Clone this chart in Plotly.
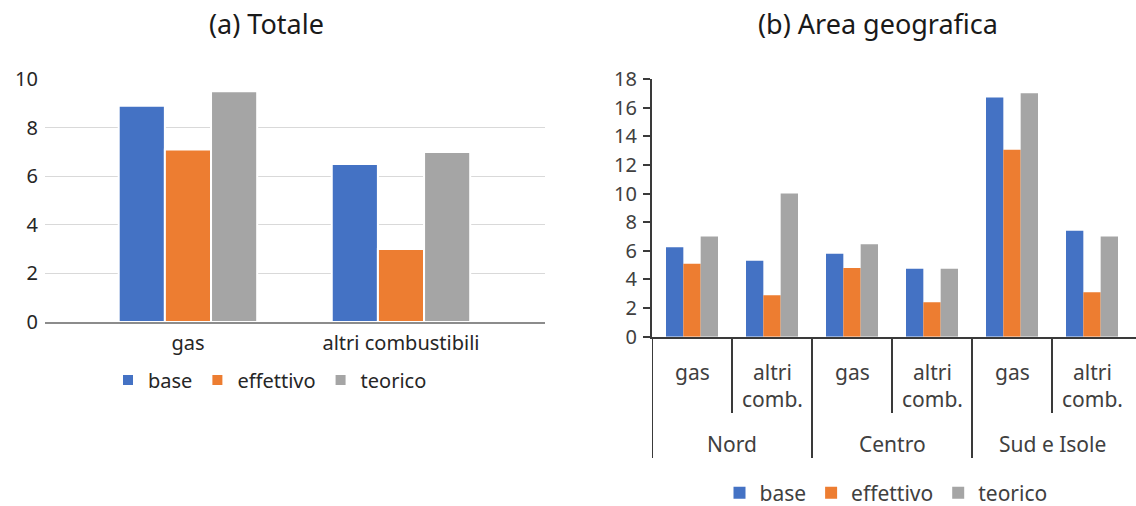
import plotly.graph_objects as go

# ---- data ----
series = ["base", "effettivo", "teorico"]
colors = ["#4472C4", "#ED7D31", "#A5A5A5"]

tot_cats = ["gas", "altri combustibili"]
tot_base = [8.9, 6.5]
tot_eff = [7.1, 3.0]
tot_teo = [9.5, 7.0]

regions = ["Nord", "Centro", "Sud e Isole"]
fuels = ["gas", "altri<br>comb."]
geo_base = [6.25, 5.3, 5.8, 4.75, 16.7, 7.4]
geo_eff = [5.1, 2.9, 4.8, 2.4, 13.05, 3.1]
geo_teo = [7.0, 10.0, 6.45, 4.75, 17.0, 7.0]

geo_cats = [f"{r} | {f}" for r in regions for f in fuels]

W, H = 1136, 506
def px(x):
    return x / W
def py(y):
    return 1 - y / H

fig = go.Figure()

for name, col, vals in zip(series, colors, [tot_base, tot_eff, tot_teo]):
    fig.add_trace(go.Bar(x=tot_cats, y=vals, name=name, marker=dict(color=col, line=dict(color="white", width=2)),
                         xaxis="x", yaxis="y", legend="legend"))

for name, col, vals in zip(series, colors, [geo_base, geo_eff, geo_teo]):
    fig.add_trace(go.Bar(x=geo_cats, y=vals, name=name, marker=dict(color=col, line=dict(width=0)),
                         xaxis="x2", yaxis="y2", legend="legend2"))

dark = "#3a3a3a"
font_l = "Noto Sans"
font_r = "Noto Sans"
col_l = "#262626"
col_r = "#404040"

fig.update_layout(
    width=W, height=H,
    margin=dict(l=0, r=0, t=0, b=0, autoexpand=False),
    paper_bgcolor="white", plot_bgcolor="white",
    barmode="group", bargap=0.35, bargroupgap=0,
    font=dict(family=font_l, size=20, color=col_l),
    xaxis=dict(domain=[px(45), px(545)], anchor="y", type="category",
               range=[-0.671, 1.676], showgrid=False, zeroline=False,
               showline=True, linecolor="#8c8c8c", linewidth=1.5, ticks="",
               tickfont=dict(family=font_l, size=20, color=col_l), ticklabelstandoff=2,
               automargin=False),
    yaxis=dict(domain=[py(322), py(79)], anchor="x", range=[0, 10], dtick=2,
               showgrid=True, gridcolor="#d9d9d9", gridwidth=1, zeroline=False,
               showline=False, ticks="", ticklabelstandoff=6, automargin=False,
               tickfont=dict(family=font_l, size=20, color=col_l)),
    xaxis2=dict(domain=[px(652), 1.0], anchor="y2", type="category",
                range=[-0.5, 5.55], showgrid=False, zeroline=False,
                showline=True, linecolor=dark, linewidth=2, ticks="",
                showticklabels=False, automargin=False),
    yaxis2=dict(domain=[py(336.7), py(79)], anchor="x2", range=[0, 18], dtick=2,
                showgrid=False, zeroline=False, showline=True, linecolor=dark, linewidth=2,
                ticks="outside", ticklen=7, tickwidth=2, tickcolor=dark, automargin=False,
                tickfont=dict(family=font_r, size=20, color=col_r), ticklabelstandoff=2),
    legend=dict(orientation="h", x=px(270), xanchor="center", y=py(380), yanchor="middle",
                xref="paper", yref="paper",
                font=dict(family=font_l, size=20, color=col_l), itemwidth=30,
                traceorder="normal", bgcolor="rgba(0,0,0,0)"),
    legend2=dict(orientation="h", x=px(886), xanchor="center", y=py(493), yanchor="middle",
                 font=dict(family=font_r, size=21, color=col_r), itemwidth=30,
                 traceorder="normal", bgcolor="rgba(0,0,0,0)"),
    showlegend=True,
)

annotations = [
    dict(text="(a) Totale", x=px(266), y=py(24), xref="paper", yref="paper",
         showarrow=False, font=dict(family=font_l, size=27, color="#1a1a1a"), xanchor="center", yanchor="middle"),
    dict(text="(b) Area geografica", x=px(878), y=py(24), xref="paper", yref="paper",
         showarrow=False, font=dict(family=font_l, size=27, color="#1a1a1a"), xanchor="center", yanchor="middle"),
]
for i, c in enumerate(geo_cats):
    f = fuels[i % len(fuels)]
    annotations.append(dict(text=f, x=i, y=py(356), xref="x2", yref="paper", showarrow=False,
                            xanchor="center", yanchor="top",
                            font=dict(family=font_r, size=21, color=col_r)))
for j, r in enumerate(regions):
    annotations.append(dict(text=r, x=2 * j + 0.5, y=py(444), xref="x2", yref="paper", showarrow=False,
                            xanchor="center", yanchor="middle",
                            font=dict(family=font_r, size=21, color=col_r)))
fig.update_layout(annotations=annotations)

shapes = []
for j in range(len(regions)):
    xb = 2 * j + 0.5
    shapes.append(dict(type="line", xref="x2", yref="paper", x0=xb, x1=xb, y0=py(337), y1=py(413),
                       line=dict(color=dark, width=2)))
    xo = 2 * j - 0.5
    shapes.append(dict(type="line", xref="x2", yref="paper", x0=xo, x1=xo, y0=py(337), y1=py(458),
                       line=dict(color=dark, width=2)))
fig.update_layout(shapes=shapes)

fig.write_html("out.html", config={"displayModeBar": False},
               post_script="document.body.style.margin='0';document.body.style.padding='0';")
